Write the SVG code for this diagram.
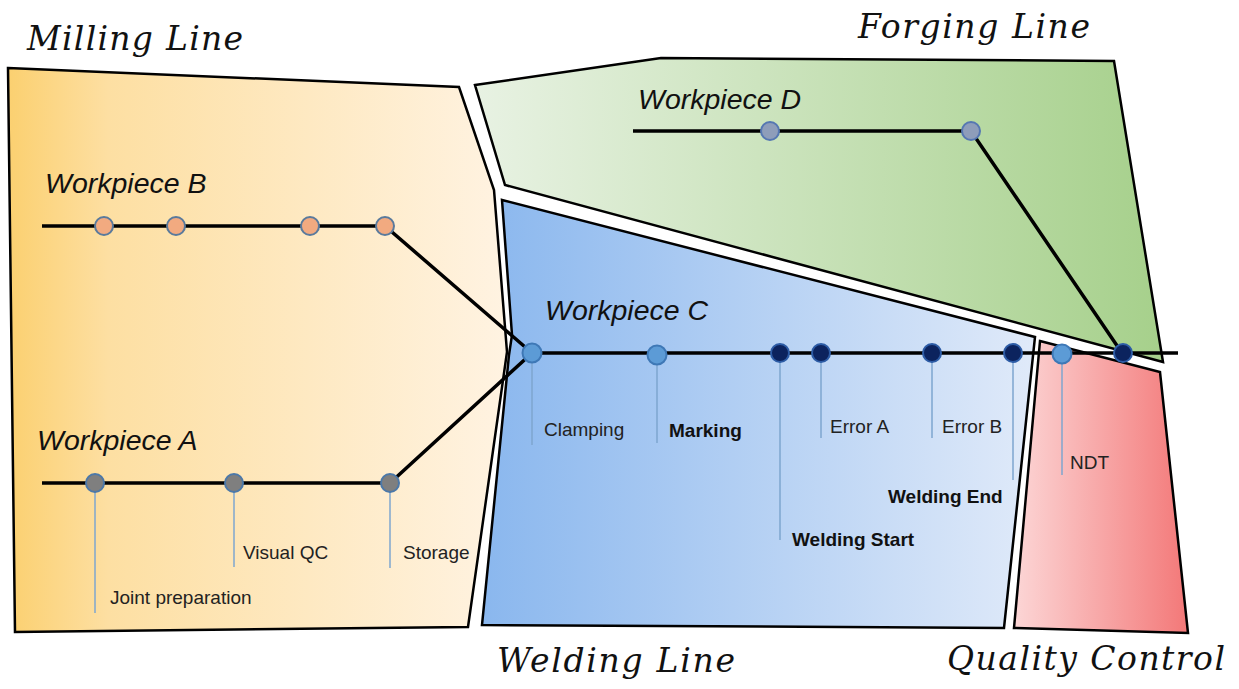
<svg xmlns="http://www.w3.org/2000/svg" width="1239" height="689" viewBox="0 0 1239 689">
<style>
.zone{stroke:#000;stroke-width:2.5;stroke-linejoin:miter}
.title{font-family:"DejaVu Serif","Liberation Serif",serif;font-style:italic;font-size:33px;fill:#111}
.wp{font-family:"Liberation Sans",Arial,sans-serif;font-style:italic;font-size:28.5px;fill:#111}
.lbl{font-family:"Liberation Sans",Arial,sans-serif;font-size:19px;fill:#222}
.bold{font-weight:bold;fill:#111}
.track{stroke:#000;stroke-width:3.5;fill:none;stroke-linecap:butt}
.drop{stroke:#7ea6cf;stroke-width:1.5}
.nB{fill:#f2aa80;stroke:#5a7a9c;stroke-width:2}
.nA{fill:#7f7f7f;stroke:#4c78a8;stroke-width:2}
.nD{fill:#8e9dba;stroke:#5577b2;stroke-width:2}
.nL{fill:#5c9bd6;stroke:#3e78b6;stroke-width:2}
.nK{fill:#0c235e;stroke:#2d5ca6;stroke-width:2}
</style>
<defs>
<linearGradient id="gMill" gradientUnits="userSpaceOnUse" x1="8" y1="0" x2="508" y2="0">
<stop offset="0" stop-color="#fbd070"/>
<stop offset="0.2" stop-color="#fddfa2"/>
<stop offset="1" stop-color="#fff3e2"/>
</linearGradient>
<linearGradient id="gForge" gradientUnits="userSpaceOnUse" x1="475" y1="0" x2="1164" y2="0">
<stop offset="0" stop-color="#e8f2e3"/>
<stop offset="1" stop-color="#a6d08b"/>
</linearGradient>
<linearGradient id="gWeld" gradientUnits="userSpaceOnUse" x1="482" y1="0" x2="1036" y2="0">
<stop offset="0" stop-color="#8ab7ee"/>
<stop offset="1" stop-color="#e0eaf9"/>
</linearGradient>
<linearGradient id="gQC" gradientUnits="userSpaceOnUse" x1="1014" y1="0" x2="1188" y2="0">
<stop offset="0" stop-color="#fcd6d6"/>
<stop offset="1" stop-color="#f37878"/>
</linearGradient>
</defs>

<g id="milling-line">
<polygon class="zone" fill="url(#gMill)" points="8,68 459,87 494,190 507,352 468,627 15,632"/>
<text class="title" x="27" y="50" textLength="216" lengthAdjust="spacing">Milling Line</text>
</g>
<g id="forging-line">
<polygon class="zone" fill="url(#gForge)" points="475,85 661,58 1114,61 1163,362 505,185"/>
<text class="title" x="858" y="38" textLength="232" lengthAdjust="spacing">Forging Line</text>
</g>
<g id="welding-line">
<polygon class="zone" fill="url(#gWeld)" points="502,200 1035,337 1004,628 482,625 509,355 512,335"/>
<text class="title" x="497" y="672" textLength="238" lengthAdjust="spacing">Welding Line</text>
</g>
<g id="quality-control">
<polygon class="zone" fill="url(#gQC)" points="1040,341 1160,372 1188,633 1014,628"/>
<text class="title" x="947" y="670" textLength="278" lengthAdjust="spacing">Quality Control</text>
</g>

<g id="connectors">
<polyline class="track" points="42,226 385,226 532,353"/>
<polyline class="track" points="42,483 390,483 532,353"/>
<polyline class="track" points="633,131 971,131 1122,353"/>
<line class="track" x1="532" y1="353" x2="1178" y2="353"/>
<line class="drop" x1="95" y1="483" x2="95" y2="613"/>
<line class="drop" x1="234" y1="483" x2="234" y2="567"/>
<line class="drop" x1="390" y1="483" x2="390" y2="568"/>
<line class="drop" x1="532" y1="353" x2="532" y2="445"/>
<line class="drop" x1="657" y1="353" x2="657" y2="443"/>
<line class="drop" x1="780" y1="353" x2="780" y2="540"/>
<line class="drop" x1="821" y1="353" x2="821" y2="438"/>
<line class="drop" x1="932" y1="353" x2="932" y2="438"/>
<line class="drop" x1="1013" y1="353" x2="1013" y2="480"/>
<line class="drop" x1="1062" y1="353" x2="1062" y2="475"/>
</g>

<g id="workpiece-b">
<text class="wp" x="45" y="193">Workpiece B</text>
<circle class="nB" cx="104" cy="226" r="9"/>
<circle class="nB" cx="176" cy="226" r="9"/>
<circle class="nB" cx="310" cy="226" r="9"/>
<circle class="nB" cx="385" cy="226" r="9"/>
</g>

<g id="workpiece-a">
<text class="wp" x="37" y="450">Workpiece A</text>
<circle class="nA" cx="95" cy="483" r="9"/>
<circle class="nA" cx="234" cy="483" r="9"/>
<circle class="nA" cx="390" cy="483" r="9"/>
<text class="lbl" x="110" y="604">Joint preparation</text>
<text class="lbl" x="243" y="559">Visual QC</text>
<text class="lbl" x="403" y="559">Storage</text>
</g>

<g id="workpiece-d">
<text class="wp" x="638" y="109">Workpiece D</text>
<circle class="nD" cx="770" cy="131" r="9"/>
<circle class="nD" cx="971" cy="131" r="9"/>
</g>

<g id="workpiece-c">
<text class="wp" x="545" y="320">Workpiece C</text>
<circle class="nL" cx="532" cy="353" r="9.5"/>
<circle class="nL" cx="657" cy="355" r="9.5"/>
<circle class="nK" cx="780" cy="353" r="9"/>
<circle class="nK" cx="821" cy="353" r="9"/>
<circle class="nK" cx="932" cy="353" r="9"/>
<circle class="nK" cx="1013" cy="353" r="9"/>
<circle class="nL" cx="1062" cy="354" r="9.5"/>
<circle class="nK" cx="1123" cy="353" r="9"/>
<text class="lbl" x="544" y="436">Clamping</text>
<text class="lbl bold" x="669" y="437">Marking</text>
<text class="lbl" x="830" y="433">Error A</text>
<text class="lbl" x="942" y="433">Error B</text>
<text class="lbl" x="1070" y="469">NDT</text>
<text class="lbl bold" x="888" y="503">Welding End</text>
<text class="lbl bold" x="792" y="546">Welding Start</text>
</g>
</svg>
